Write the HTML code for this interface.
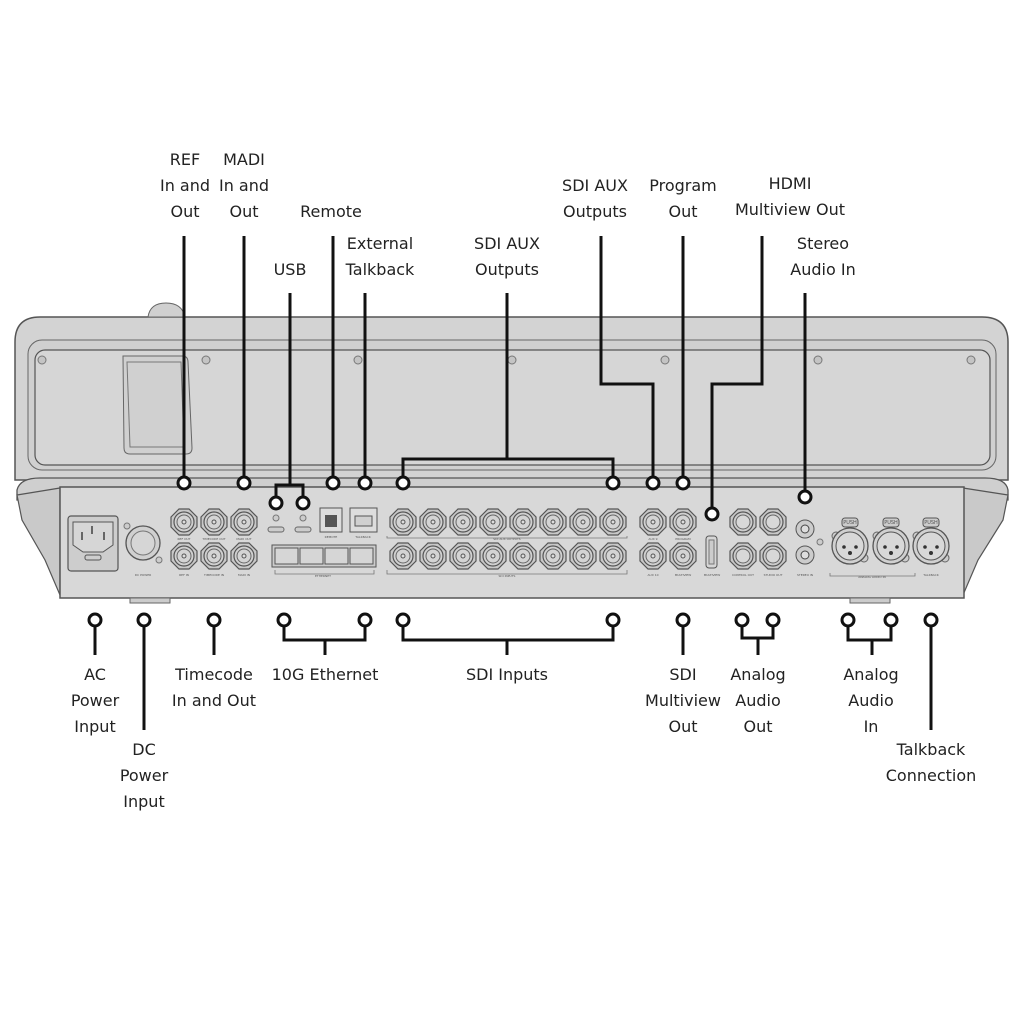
<!DOCTYPE html>
<html><head><meta charset="utf-8"><style>
html,body{margin:0;padding:0;background:#fff;}
svg{display:block}
text{font-family:"DejaVu Sans","Liberation Sans",sans-serif;font-size:16px;fill:#222;text-anchor:middle}
.s{font-size:3px;fill:#555}
</style></head><body>
<svg width="1024" height="1024" viewBox="0 0 1024 1024" xmlns="http://www.w3.org/2000/svg">
<defs>
<g id="bnc">
<polygon points="-13,-5 -5,-13 5,-13 13,-5 13,5 5,13 -5,13 -13,5" fill="#c8c8c8" stroke="#555" stroke-width="1.2"/>
<circle r="10" fill="#d0d0d0" stroke="#555" stroke-width="1.2"/>
<circle r="7" fill="#d4d4d4" stroke="#666" stroke-width="1"/>
<circle r="2" fill="#ddd" stroke="#555" stroke-width="1"/>
</g>
<g id="jack">
<polygon points="-13,-5 -5,-13 5,-13 13,-5 13,5 5,13 -5,13 -13,5" fill="#c8c8c8" stroke="#555" stroke-width="1.2"/>
<circle r="10" fill="#ccc" stroke="#555" stroke-width="1.2"/>
<circle r="7" fill="#d8d8d8" stroke="#666" stroke-width="1"/>
</g>
<g id="xlr">
<circle cx="-14" cy="-10" r="4" fill="#ccc" stroke="#666"/>
<circle cx="14" cy="12" r="4" fill="#ccc" stroke="#666"/>
<circle r="18" fill="#d0d0d0" stroke="#555" stroke-width="1.3"/>
<circle r="14" fill="#d8d8d8" stroke="#555" stroke-width="1"/>
<rect x="-8" y="-28" width="16" height="9" rx="3" fill="#ccc" stroke="#555"/>
<text class="s" y="-22" style="font-size:5px">PUSH</text>
<circle cx="-6" cy="1" r="1.8" fill="#333"/><circle cx="6" cy="1" r="1.8" fill="#333"/><circle cx="0" cy="7" r="2" fill="#333"/>
</g>
<g id="ck"><circle r="6" fill="#fff" stroke="#111" stroke-width="3"/></g>
</defs>

<path d="M15,342 Q15,317 40,317 L982,317 Q1008,317 1008,342 L1008,480 L15,480 Z" fill="#d3d3d3" stroke="#555" stroke-width="1.5"/>
<path d="M148,317 Q150,303 166,303 Q182,303 185,317 Z" fill="#d0d0d0" stroke="#666"/>
<rect x="28" y="340" width="968" height="130" rx="14" fill="#d0d0d0" stroke="#666" stroke-width="1"/>
<rect x="35" y="350" width="955" height="115" rx="10" fill="#d6d6d6" stroke="#555" stroke-width="1.2"/>
<path d="M123,356 L182,356 Q188,356 188,362 L192,448 Q192,454 186,454 L130,454 Q124,454 124,448 Z" fill="#d0d0d0" stroke="#666"/>
<path d="M127,362 L181,362 L184,447 L130,447 Z" fill="none" stroke="#777"/>
<g fill="#c4c4c4" stroke="#777">
<circle cx="42" cy="360" r="4"/><circle cx="206" cy="360" r="4"/><circle cx="358" cy="360" r="4"/><circle cx="512" cy="360" r="4"/><circle cx="665" cy="360" r="4"/><circle cx="818" cy="360" r="4"/><circle cx="971" cy="360" r="4"/>
</g>
<path d="M17,490 Q20,478 40,478 L985,478 Q1006,478 1008,490 L1008,500 L17,500 Z" fill="#cfcfcf" stroke="#555" stroke-width="1.3"/>
<polygon points="17,495 60,488 60,595 45,560 22,520" fill="#c9c9c9" stroke="#555" stroke-width="1.2"/>
<polygon points="1008,495 963,488 963,595 978,560 1003,520" fill="#c9c9c9" stroke="#555" stroke-width="1.2"/>
<rect x="60" y="487" width="904" height="111" fill="#d8d8d8" stroke="#555" stroke-width="1.5"/>
<rect x="130" y="598" width="40" height="5" fill="#ccc" stroke="#666"/>
<rect x="850" y="598" width="40" height="5" fill="#ccc" stroke="#666"/>

<rect x="68" y="516" width="50" height="55" rx="3" fill="#cdcdcd" stroke="#555" stroke-width="1.2"/>
<path d="M73,522 L113,522 L113,545 L103,552 L83,552 L73,545 Z" fill="#d6d6d6" stroke="#555"/>
<rect x="91" y="526" width="2" height="8" fill="#666"/><rect x="81" y="532" width="2" height="8" fill="#666"/><rect x="103" y="532" width="2" height="8" fill="#666"/>
<rect x="85" y="555" width="16" height="5" rx="2" fill="none" stroke="#555"/>
<circle cx="143" cy="543" r="17" fill="#d0d0d0" stroke="#555" stroke-width="1.3"/>
<circle cx="143" cy="543" r="12" fill="#d6d6d6" stroke="#777"/>
<circle cx="127" cy="526" r="3" fill="#ccc" stroke="#777"/><circle cx="159" cy="560" r="3" fill="#ccc" stroke="#777"/>
<use href="#bnc" x="184" y="522"/><use href="#bnc" x="214" y="522"/><use href="#bnc" x="244" y="522"/>
<use href="#bnc" x="184" y="556"/><use href="#bnc" x="214" y="556"/><use href="#bnc" x="244" y="556"/>
<circle cx="276" cy="518" r="3" fill="#ccc" stroke="#777"/><circle cx="303" cy="518" r="3" fill="#ccc" stroke="#777"/>
<rect x="268" y="527" width="16" height="5" rx="2.5" fill="#ccc" stroke="#666"/><rect x="295" y="527" width="16" height="5" rx="2.5" fill="#ccc" stroke="#666"/>
<rect x="320" y="508" width="22" height="24" fill="#ddd" stroke="#555"/><rect x="325" y="515" width="12" height="12" fill="#555"/>
<rect x="350" y="508" width="27" height="24" fill="#ddd" stroke="#555"/><rect x="355" y="516" width="17" height="10" fill="#d0d0d0" stroke="#555"/>
<rect x="272" y="545" width="104" height="22" fill="#ccc" stroke="#555"/>
<g fill="#d6d6d6" stroke="#555"><rect x="275" y="548" width="23" height="16"/><rect x="300" y="548" width="23" height="16"/><rect x="325" y="548" width="23" height="16"/><rect x="350" y="548" width="23" height="16"/></g>
<g>
<use href="#bnc" x="403" y="522"/><use href="#bnc" x="433" y="522"/><use href="#bnc" x="463" y="522"/><use href="#bnc" x="493" y="522"/><use href="#bnc" x="523" y="522"/><use href="#bnc" x="553" y="522"/><use href="#bnc" x="583" y="522"/><use href="#bnc" x="613" y="522"/>
<use href="#bnc" x="403" y="556"/><use href="#bnc" x="433" y="556"/><use href="#bnc" x="463" y="556"/><use href="#bnc" x="493" y="556"/><use href="#bnc" x="523" y="556"/><use href="#bnc" x="553" y="556"/><use href="#bnc" x="583" y="556"/><use href="#bnc" x="613" y="556"/>
<use href="#bnc" x="653" y="522"/><use href="#bnc" x="683" y="522"/><use href="#bnc" x="653" y="556"/><use href="#bnc" x="683" y="556"/>
</g>
<g stroke="#777" fill="none" stroke-width="0.8">
<path d="M387,536 V538 H627 V536"/><path d="M387,570 V574 H627 V570"/><path d="M275,570 V574 H374 V570"/><path d="M830,573 V576 H915 V573"/>
</g>
<rect x="706" y="536" width="11" height="32" rx="3" fill="#d6d6d6" stroke="#555"/>
<rect x="709" y="540" width="5" height="24" fill="#ccc" stroke="#777"/>
<use href="#jack" x="743" y="522"/><use href="#jack" x="773" y="522"/><use href="#jack" x="743" y="556"/><use href="#jack" x="773" y="556"/>
<circle cx="805" cy="529" r="9" fill="#ccc" stroke="#555"/><circle cx="805" cy="529" r="4" fill="#ddd" stroke="#444"/>
<circle cx="805" cy="555" r="9" fill="#ccc" stroke="#555"/><circle cx="805" cy="555" r="4" fill="#ddd" stroke="#444"/>
<circle cx="820" cy="542" r="3" fill="#ccc" stroke="#777"/>
<use href="#xlr" x="850" y="546"/><use href="#xlr" x="891" y="546"/><use href="#xlr" x="931" y="546"/>
<g class="s">
<text class="s" x="184" y="540">REF OUT</text><text class="s" x="214" y="540">TIMECODE OUT</text><text class="s" x="244" y="540">MADI OUT</text>
<text class="s" x="184" y="576">REF IN</text><text class="s" x="214" y="576">TIMECODE IN</text><text class="s" x="244" y="576">MADI IN</text>
<text class="s" x="143" y="576">DC POWER</text><text class="s" x="323" y="577">ETHERNET</text><text class="s" x="507" y="577">SDI INPUTS</text>
<text class="s" x="507" y="540">SDI AUX OUTPUTS</text><text class="s" x="653" y="540">AUX 9</text><text class="s" x="683" y="540">PROGRAM</text>
<text class="s" x="653" y="576">AUX 10</text><text class="s" x="683" y="576">MULTIVIEW</text><text class="s" x="712" y="576">MULTIVIEW</text>
<text class="s" x="743" y="576">CONTROL OUT</text><text class="s" x="773" y="576">STUDIO OUT</text><text class="s" x="805" y="576">STEREO IN</text>
<text class="s" x="872" y="578">ANALOG AUDIO IN</text><text class="s" x="931" y="576">TALKBACK</text>
<text class="s" x="331" y="538">REMOTE</text><text class="s" x="363" y="538">TALKBACK</text>
</g>

<g stroke="#111" stroke-width="3" fill="none">
<path d="M184,236 V477"/><path d="M244,236 V477"/><path d="M333,236 V477"/><path d="M365,293 V477"/>
<path d="M290,293 V485 M276,497 V485 H303 V497"/>
<path d="M507,293 V459 M403,477 V459 H613 V477"/>
<path d="M601,236 V384 H653 V477"/>
<path d="M683,236 V477"/>
<path d="M762,236 V384 H712 V508"/>
<path d="M805,293 V491"/>
<path d="M95,626 V655"/><path d="M144,626 V730"/><path d="M214,626 V655"/>
<path d="M284,626 V640 H365 V626 M325,640 V655"/>
<path d="M403,626 V640 H613 V626 M507,640 V655"/>
<path d="M683,626 V655"/>
<path d="M742,626 V638 H773 V626 M758,638 V655"/>
<path d="M848,626 V640 H891 V626 M872,640 V655"/>
<path d="M931,626 V730"/>
</g>
<g>
<use href="#ck" x="184" y="483"/><use href="#ck" x="244" y="483"/><use href="#ck" x="333" y="483"/><use href="#ck" x="365" y="483"/>
<use href="#ck" x="276" y="503"/><use href="#ck" x="303" y="503"/>
<use href="#ck" x="403" y="483"/><use href="#ck" x="613" y="483"/><use href="#ck" x="653" y="483"/><use href="#ck" x="683" y="483"/>
<use href="#ck" x="712" y="514"/><use href="#ck" x="805" y="497"/>
<use href="#ck" x="95" y="620"/><use href="#ck" x="144" y="620"/><use href="#ck" x="214" y="620"/><use href="#ck" x="284" y="620"/><use href="#ck" x="365" y="620"/>
<use href="#ck" x="403" y="620"/><use href="#ck" x="613" y="620"/><use href="#ck" x="683" y="620"/><use href="#ck" x="742" y="620"/><use href="#ck" x="773" y="620"/>
<use href="#ck" x="848" y="620"/><use href="#ck" x="891" y="620"/><use href="#ck" x="931" y="620"/>
</g>

<text x="185" y="165">REF</text><text x="185" y="191">In and</text><text x="185" y="217">Out</text>
<text x="244" y="165">MADI</text><text x="244" y="191">In and</text><text x="244" y="217">Out</text>
<text x="331" y="217">Remote</text>
<text x="290" y="275">USB</text>
<text x="380" y="249">External</text><text x="380" y="275">Talkback</text>
<text x="507" y="249">SDI AUX</text><text x="507" y="275">Outputs</text>
<text x="595" y="191">SDI AUX</text><text x="595" y="217">Outputs</text>
<text x="683" y="191">Program</text><text x="683" y="217">Out</text>
<text x="790" y="189">HDMI</text><text x="790" y="215">Multiview Out</text>
<text x="823" y="249">Stereo</text><text x="823" y="275">Audio In</text>
<text x="95" y="680">AC</text><text x="95" y="706">Power</text><text x="95" y="732">Input</text>
<text x="144" y="755">DC</text><text x="144" y="781">Power</text><text x="144" y="807">Input</text>
<text x="214" y="680">Timecode</text><text x="214" y="706">In and Out</text>
<text x="325" y="680">10G Ethernet</text>
<text x="507" y="680">SDI Inputs</text>
<text x="683" y="680">SDI</text><text x="683" y="706">Multiview</text><text x="683" y="732">Out</text>
<text x="758" y="680">Analog</text><text x="758" y="706">Audio</text><text x="758" y="732">Out</text>
<text x="871" y="680">Analog</text><text x="871" y="706">Audio</text><text x="871" y="732">In</text>
<text x="931" y="755">Talkback</text><text x="931" y="781">Connection</text>
</svg>
</body></html>
